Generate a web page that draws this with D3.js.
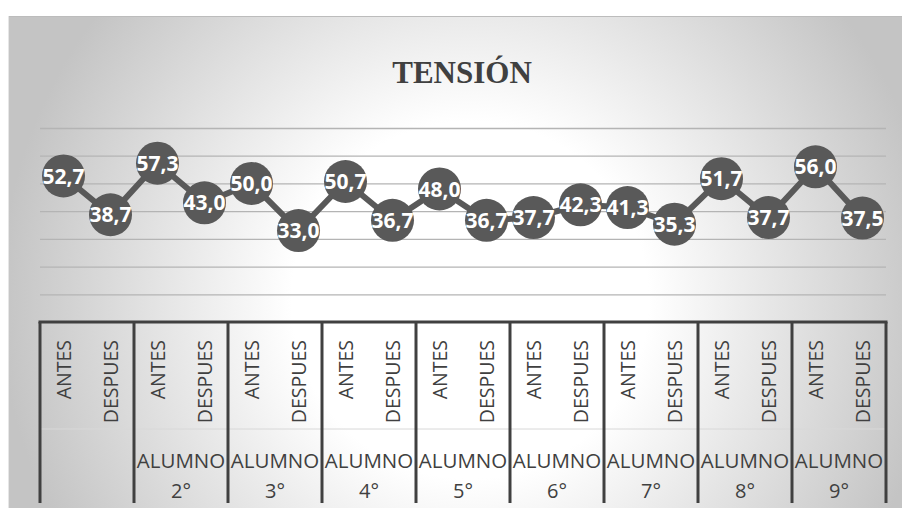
<!DOCTYPE html>
<html><head><meta charset="utf-8">
<script src="https://cdn.jsdelivr.net/npm/d3@7"></script>
<style>html,body{margin:0;padding:0;background:#fff;}svg{display:block;}</style>
</head><body>
<svg id="chart" width="902" height="508"></svg>
<script>
const title = "TENSIÓN";
const groups = ["", "2°", "3°", "4°", "5°", "6°", "7°", "8°", "9°"];
const groupPrefix = "ALUMNO";
const phases = ["ANTES", "DESPUES"];
const values = [52.7, 38.7, 57.3, 43.0, 50.0, 33.0, 50.7, 36.7, 48.0, 36.7, 37.7, 42.3, 41.3, 35.3, 51.7, 37.7, 56.0, 37.5];
const gridTicks = [10, 20, 30, 40, 50, 60, 70];

(function () {
const svg = d3.select("#chart");
const W = 902, H = 508;
const defs = svg.append("defs");
const grad = defs.append("radialGradient").attr("id", "bg")
  .attr("gradientUnits", "userSpaceOnUse")
  .attr("cx", 470).attr("cy", 300).attr("r", 470);
grad.append("stop").attr("offset", 0).attr("stop-color", "#ffffff");
grad.append("stop").attr("offset", 0.38).attr("stop-color", "#ffffff");
grad.append("stop").attr("offset", 1).attr("stop-color", "#c4c4c4");

svg.append("rect").attr("x", 9).attr("y", 16).attr("width", W - 9).attr("height", H - 16)
  .attr("fill", "url(#bg)");
svg.append("line").attr("x1", 9).attr("x2", W).attr("y1", 16.5).attr("y2", 16.5)
  .attr("stroke", "#bcbcbc").attr("stroke-width", 1);
svg.append("line").attr("x1", 8.5).attr("x2", 8.5).attr("y1", 16).attr("y2", H)
  .attr("stroke", "#e6e6e6").attr("stroke-width", 1);

const pLeft = 40, pRight = 886, pTop = 128, pBottom = 322;
const points = values.map((v, i) => ({ i, v, group: Math.floor(i / 2), phase: phases[i % 2] }));
const x = d3.scaleBand().domain(points.map(d => d.i)).range([pLeft, pRight]);
const y = d3.scaleLinear().domain([0, 70]).range([pBottom, pTop]);
const xg = d3.scaleBand().domain(groups.map((g, i) => i)).range([pLeft, pRight]);

// title
svg.append("text").attr("x", 462).attr("y", 83).attr("text-anchor", "middle")
  .attr("font-family", "Liberation Serif, serif").attr("font-weight", "bold")
  .attr("font-size", 31).attr("fill", "#404040").text(title);

// gridlines
const grid = svg.append("g").attr("transform", `translate(${pLeft},0)`)
  .call(d3.axisLeft(y).tickValues(gridTicks).tickSize(-(pRight - pLeft)).tickFormat(""));
grid.select(".domain").remove();
grid.selectAll(".tick line").attr("stroke", "#b4b4b4").attr("stroke-width", 1.3);

// line
const line = d3.line().x(d => x(d.i) + x.bandwidth() / 2).y(d => y(d.v));
svg.append("path").datum(points).attr("d", line).attr("fill", "none")
  .attr("stroke", "#595959").attr("stroke-width", 6).attr("stroke-linejoin", "round");

const fmt = v => d3.format(".1f")(v).replace(".", ",");
const pg = svg.append("g").selectAll("g").data(points).join("g")
  .attr("transform", d => `translate(${x(d.i) + x.bandwidth() / 2},${y(d.v)})`);
pg.append("circle").attr("r", 21.5).attr("fill", "#595959");
pg.append("text").attr("text-anchor", "middle").attr("dy", "0.36em")
  .attr("font-family", "Open Sans, sans-serif").attr("font-weight", "bold")
  .attr("font-size", 21).attr("fill", "#ffffff").text(d => fmt(d.v));

// category axis
const axisColor = "#404040";
const ax = svg.append("g");
ax.append("line").attr("x1", pLeft - 1.5).attr("x2", pRight + 1.5).attr("y1", pBottom).attr("y2", pBottom)
  .attr("stroke", axisColor).attr("stroke-width", 3);
ax.append("line").attr("x1", pLeft).attr("x2", pRight).attr("y1", 429).attr("y2", 429)
  .attr("stroke", "#d8d8d8").attr("stroke-width", 1);
const seps = groups.map((g, i) => xg(i)).concat([pRight]);
ax.selectAll("line.sep").data(seps).join("line").attr("class", "sep")
  .attr("x1", d => d).attr("x2", d => d).attr("y1", pBottom).attr("y2", 503)
  .attr("stroke", axisColor).attr("stroke-width", 3);

ax.selectAll("text.phase").data(points).join("text").attr("class", "phase")
  .attr("transform", d => `translate(${x(d.i) + x.bandwidth() / 2 + 7},340) rotate(-90)`)
  .attr("text-anchor", "end")
  .attr("font-family", "Open Sans, sans-serif").attr("font-size", 19.5).attr("fill", axisColor)
  .text(d => d.phase);

const gl = ax.selectAll("g.grp").data(groups.map((g, i) => ({ g, i })).filter(d => d.g !== ""))
  .join("g").attr("class", "grp")
  .attr("transform", d => `translate(${xg(d.i) + xg.bandwidth() / 2},0)`);
gl.append("text").attr("y", 468).attr("text-anchor", "middle")
  .attr("font-family", "Open Sans, sans-serif").attr("font-size", 20.5).attr("fill", axisColor)
  .text(groupPrefix);
gl.append("text").attr("y", 498).attr("text-anchor", "middle")
  .attr("font-family", "Open Sans, sans-serif").attr("font-size", 20).attr("fill", axisColor)
  .text(d => d.g);
})();
</script>
</body></html>
